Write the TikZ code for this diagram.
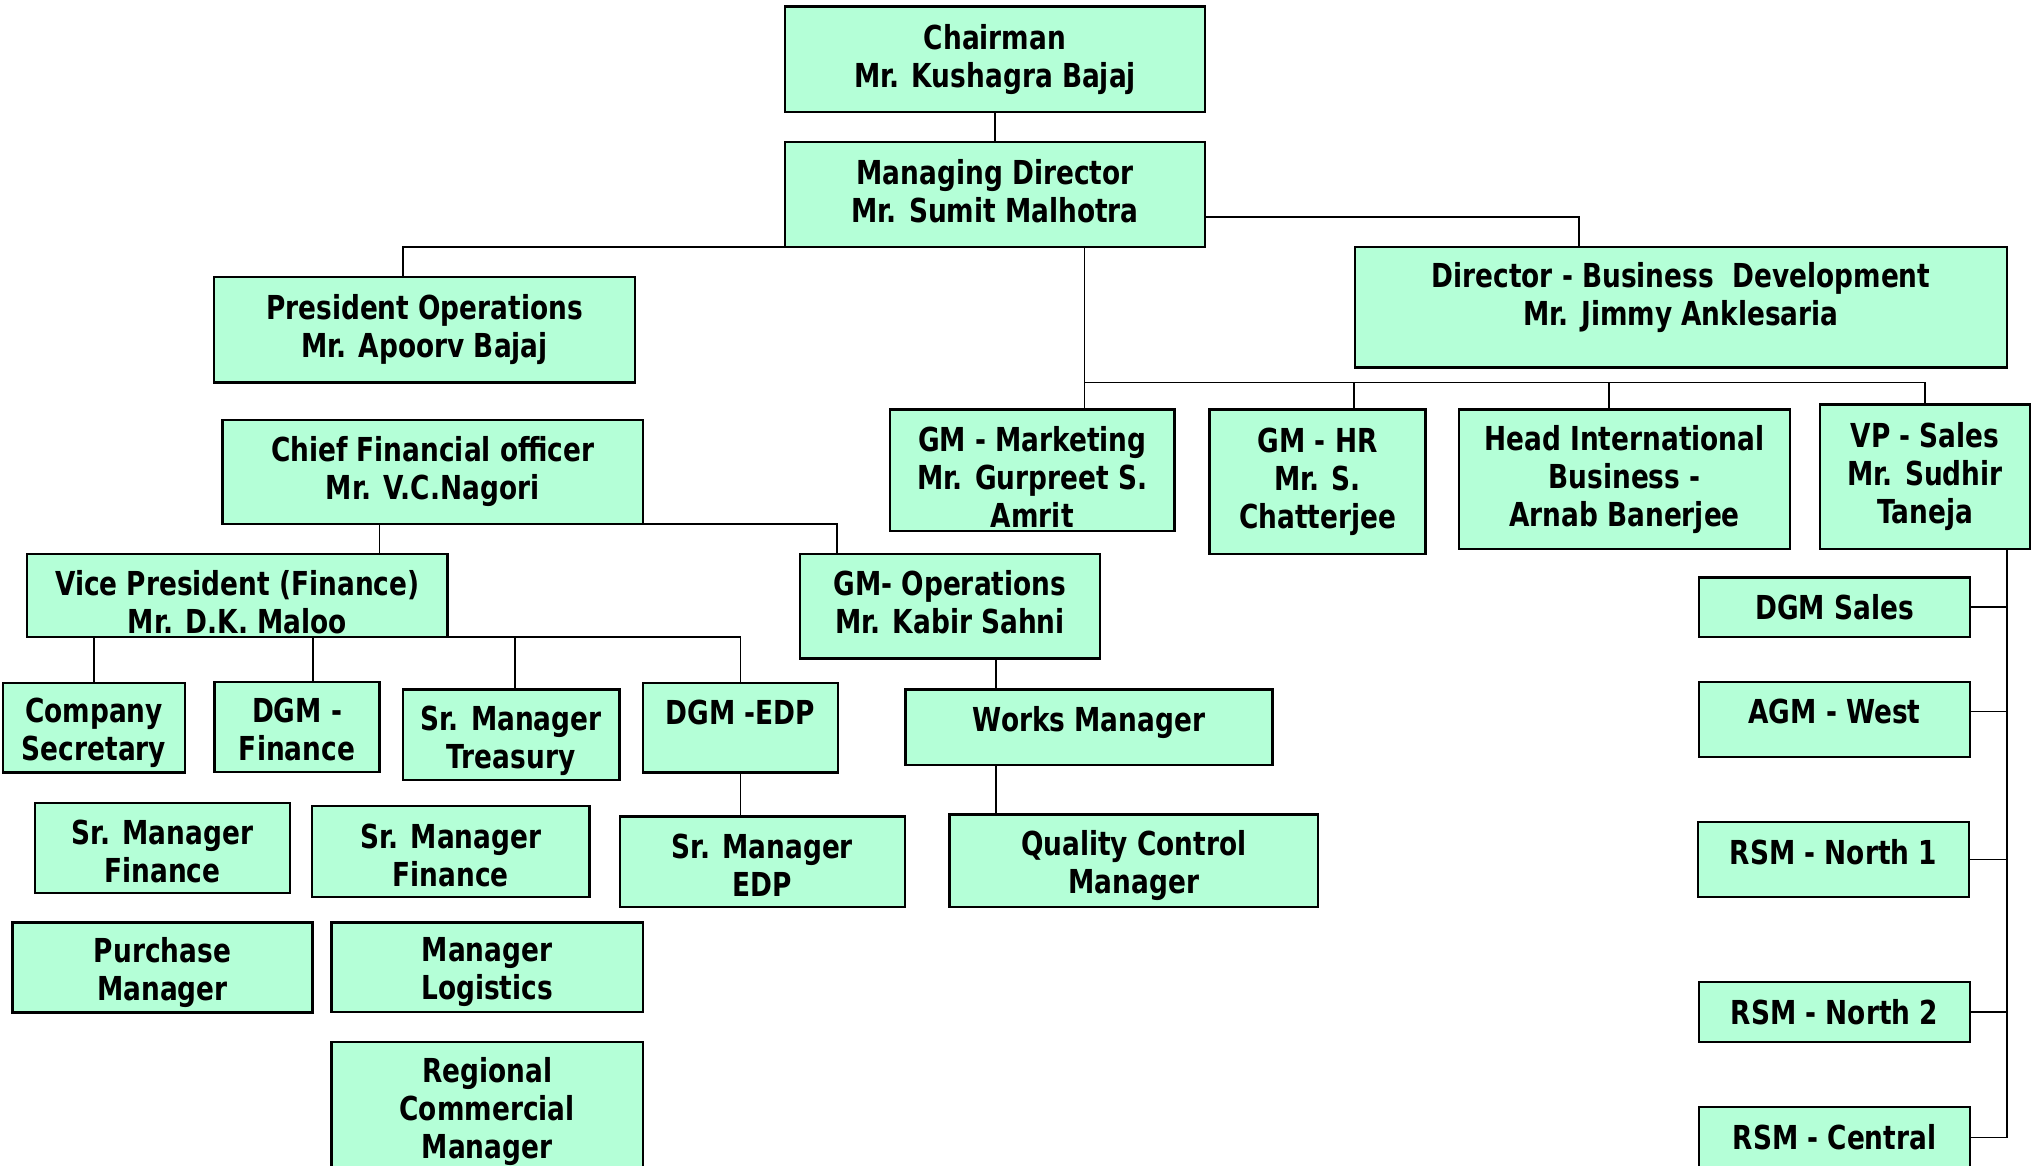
\documentclass[tikz,border=0pt]{standalone}
\usepackage{fontspec}
\usepackage{tikz}
\newfontfamily\orgfont{DejaVu Sans}[FakeStretch=0.8]
\definecolor{postgreen}{RGB}{180,255,215}

\begin{document}
\begin{tikzpicture}[x=1pt,y=-1pt,
  postbox/.style 2 args={draw, fill=postgreen, line width=2.4pt, inner sep=0pt, outer sep=0pt,
    minimum width=#1, minimum height=#2},
  posttext/.style={align=center, inner sep=0pt, font=\orgfont\bfseries\fontsize{33}{38}\selectfont},
  orgline/.style={line width=1.8pt}]
\useasboundingbox (0,0) rectangle (2034,1165);
\clip (0,0) rectangle (2034,1165);

% top of the tree
\node (chair) [postbox={420}{105.5}, label={[posttext]center:{Chairman\\Mr. Kushagra Bajaj}}] at (995,59.2) {};
\node (md) [postbox={420}{104.8}, label={[posttext, yshift=3]center:{Managing Director\\Mr. Sumit Malhotra}}] at (995,194.4) {};
\node (pres) [postbox={421}{105.6}, label={[posttext]center:{President Operations\\Mr. Apoorv Bajaj}}] at (424.5,329.5) {};
\node (dbd) [postbox={652}{120.6}, label={[posttext, yshift=10]center:{Director - Business\ \ Development\\Mr. Jimmy Anklesaria}}] at (1681,307.1) {};

% second row
\node (cfo) [postbox={420.2}{104.5}, label={[posttext]center:{Chief Financial officer\\Mr. V.C.Nagori}}] at (432.6,472) {};
\node (gmm) [postbox={284.6}{121.5}, label={[posttext, yshift=-7]center:{GM - Marketing\\Mr. Gurpreet S.\\Amrit}}] at (1032.3,470.3) {};
\node (gmhr) [postbox={216}{144.3}, label={[posttext]center:{GM - HR\\Mr. S.\\Chatterjee}}] at (1317.6,481.7) {};
\node (intl) [postbox={331}{139.5}, label={[posttext]center:{Head International\\Business -\\Arnab Banerjee}}] at (1624.5,479.3) {};
\node (vps) [postbox={210}{144.5}, label={[posttext]center:{VP - Sales\\Mr. Sudhir\\Taneja}}] at (1925,476.8) {};

% finance and operations
\node (vpf) [postbox={420.3}{83.4}, label={[posttext, yshift=-7]center:{Vice President (Finance)\\Mr. D.K. Maloo}}] at (237.4,595.5) {};
\node (gmo) [postbox={300.3}{104.6}, label={[posttext, yshift=4]center:{GM- Operations\\Mr. Kabir Sahni}}] at (949.9,606.1) {};
\node (csec) [postbox={181.6}{89.9}, label={[posttext, yshift=-5]center:{Company\\Secretary}}] at (94,727.7) {};
\node (dgmf) [postbox={164.7}{89.8}, label={[posttext, yshift=-3]center:{DGM -\\Finance}}] at (297,726.9) {};
\node (treas) [postbox={216.6}{90.4}, label={[posttext, yshift=-6]center:{Sr. Manager\\Treasury}}] at (511.1,734.8) {};
\node (dedp) [postbox={195.2}{89.9}, label={[posttext, yshift=15]center:{DGM -EDP}}] at (740.4,727.7) {};
\node (sedp) [postbox={284.8}{90.2}, label={[posttext, yshift=-4]center:{Sr. Manager\\EDP}}] at (762.4,861.7) {};
\node (works) [postbox={367.1}{75.3}, label={[posttext, yshift=5]center:{Works Manager}}] at (1089,727.3) {};
\node (qc) [postbox={368.5}{92.2}, label={[posttext, yshift=-5]center:{Quality Control\\Manager}}] at (1133.8,860.7) {};
\node (smfa) [postbox={255}{90.3}, label={[posttext, yshift=-4]center:{Sr. Manager\\Finance}}] at (162.5,847.9) {};
\node (smfb) [postbox={277.6}{90.8}, label={[posttext, yshift=-4]center:{Sr. Manager\\Finance}}] at (450.8,851.4) {};
\node (purch) [postbox={300.3}{90.2}, label={[posttext, yshift=-5]center:{Purchase\\Manager}}] at (162.5,967.4) {};
\node (logi) [postbox={311.4}{89.5}, label={[posttext, yshift=-5]center:{Manager\\Logistics}}] at (487.1,967.1) {};
\node (rcm) [postbox={311.4}{130}, label={[posttext, yshift=-5]center:{Regional\\Commercial\\Manager}}] at (487.1,1107) {};

% sales column
\node (dgms) [postbox={270.5}{59.8}, label={[posttext]center:{DGM Sales}}] at (1834.5,607.3) {};
\node (agmw) [postbox={270.5}{75.2}, label={[posttext, yshift=8]center:{AGM - West}}] at (1834.5,719.5) {};
\node (rsmna) [postbox={271}{74.5}, label={[posttext, yshift=7]center:{RSM - North 1}}] at (1833.5,859.5) {};
\node (rsmnb) [postbox={270.5}{60.2}, label={[posttext]center:{RSM - North 2}}] at (1834.5,1011.8) {};
\node (rsmc) [postbox={270.5}{61.4}, label={[posttext]center:{RSM - Central}}] at (1834.5,1137.4) {};

\coordinate (grpbus) at (1084.5,382.5);
\coordinate (salesbus) at ([xshift=82]vps.south);

% connectors
\draw [orgline] (chair) -- (md);
\draw [orgline] (md.south west) -| ([xshift=-21.7]pres.north);
\draw [orgline] ([yshift=-22.6]md.east) -| ([xshift=-102]dbd.north);
\draw [orgline] ([xshift=89.5]md.south) -- (grpbus) -| (vps.north);
\draw [orgline] (grpbus) -- (grpbus |- gmm.north);
\draw [orgline] ([xshift=36.4]gmhr.north) |- (grpbus);
\draw [orgline] ([xshift=-15.5]intl.north) |- (grpbus);

\draw [orgline] ([xshift=142]vpf.north) |- (cfo.south);
\draw [orgline] (cfo.south east) -| ([xshift=-112.6]gmo.north);
\draw [orgline] (vpf.south east) -| (dedp.north);
\draw [orgline] (csec.north) |- (vpf.south east);
\draw [orgline] ([xshift=15.6]dgmf.north) |- (vpf.south east);
\draw [orgline] ([xshift=4]treas.north) |- (vpf.south east);
\draw [orgline] (dedp.south) -- (dedp.south |- sedp.north);
\draw [orgline] ([xshift=46]gmo.south) -- ([xshift=46]gmo.south |- works.north);
\draw [orgline] ([xshift=-93.4]works.south) -- ([xshift=-93.4]works.south |- qc.north);

\draw [orgline] (salesbus) |- (rsmc.east);
\draw [orgline] (dgms.east) -- (dgms.east -| salesbus);
\draw [orgline] ([yshift=8]agmw.east) -- ([yshift=8]agmw.east -| salesbus);
\draw [orgline] (rsmna.east) -- (rsmna.east -| salesbus);
\draw [orgline] (rsmnb.east) -- (rsmnb.east -| salesbus);
\end{tikzpicture}
\end{document}
